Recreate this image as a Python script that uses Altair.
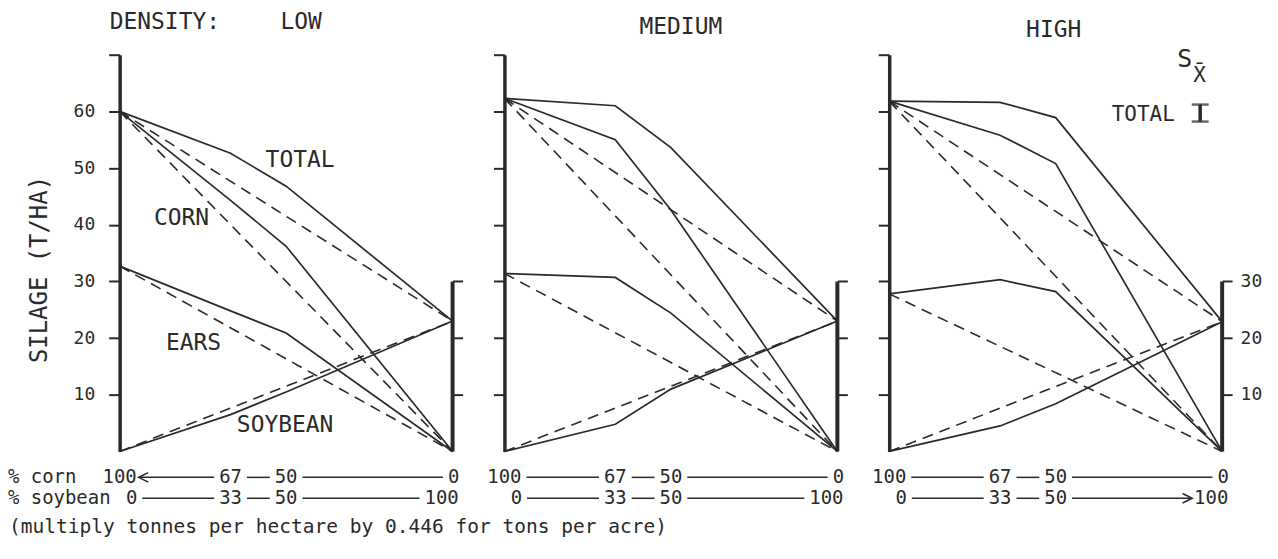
import altair as alt
import pandas as pd

# ---------------- data ----------------
densities = ["LOW", "MEDIUM", "HIGH"]
soybean_pct = [0, 33.3, 50, 100]                 # % soybean in the mixture
corn_row_labels = ["100", "67", "50", "0"]      # % corn
soybean_row_labels = ["0", "33", "50", "100"]   # % soybean
series_names = ["TOTAL", "CORN", "EARS", "SOYBEAN"]

low_total = [60.0, 52.6, 46.8, 23.0]
low_corn = [60.0, 44.3, 36.2, 0.0]
low_ears = [32.7, 24.8, 20.9, 0.0]
low_soybean = [0.0, 6.5, 10.5, 23.0]

medium_total = [62.3, 61.0, 53.6, 23.0]
medium_corn = [62.3, 55.0, 42.6, 0.0]
medium_ears = [31.4, 30.7, 24.4, 0.0]
medium_soybean = [0.0, 4.8, 11.0, 23.0]

high_total = [61.8, 61.6, 58.9, 22.9]
high_corn = [61.8, 55.8, 50.8, 0.0]
high_ears = [27.8, 30.3, 28.2, 0.0]
high_soybean = [0.0, 4.5, 8.4, 22.9]

sx_total = [58.2, 61.2]          # S x-bar bar for TOTAL (high panel)

left_tick_values = [10, 20, 30, 40, 50, 60, 70]
right_tick_values = [10, 20, 30]
x_tick_values = [33.3, 50]

panel_series = {
    "LOW": [low_total, low_corn, low_ears, low_soybean],
    "MEDIUM": [medium_total, medium_corn, medium_ears, medium_soybean],
    "HIGH": [high_total, high_corn, high_ears, high_soybean],
}

# ---------------- style ----------------
INK = "#2a2a2a"
FONT = "DejaVu Sans Mono"
W, H = 334, 398
ROW_Y = [H + 26, H + 47]
CAPTION_Y = H + 76
PX2U = 100 / W
ROW_FS = 19
HALF_CHAR = 5.72

# ---------------- tables ----------------
line_rows = []
for d in densities:
    for name, vals in zip(series_names, panel_series[d]):
        for xv, yv in zip(soybean_pct, vals):
            line_rows.append({"density": d, "key": name + "-obs", "kind": "observed", "x": xv, "y": yv})
        for xv, yv in ((soybean_pct[0], vals[0]), (soybean_pct[-1], vals[-1])):
            line_rows.append({"density": d, "key": name + "-exp", "kind": "expected", "x": xv, "y": yv})
lines_df = pd.DataFrame(line_rows)

row_labels = [corn_row_labels, soybean_row_labels]
# pixel nudges of the end labels of each typed row (start, end)
row_end_nudge = [(0, 1), (12, -11)]
arrows = {("LOW", 0): "left", ("HIGH", 1): "right"}

xs = alt.Scale(domain=[0, 100], nice=False, zero=False)
ys = alt.Scale(domain=[0, 70], nice=False)


def text(df, **kw):
    return alt.Chart(df).mark_text(font=FONT, color=INK, baseline="middle", **kw)


def panel(idx, d):
    first, last = idx == 0, idx == 2
    sub = lines_df[lines_df.density == d]

    left_kw = dict(orient="left", values=left_tick_values, labels=first, tickSize=11,
                   labelPadding=14, labelExpr="datum.value >= 70 ? '' : datum.label")
    if first:
        left_kw.update(title="SILAGE (T/HA)", titlePadding=22, titleY=215, titleFontSize=24)
    else:
        left_kw.update(title=None)
    x_axis = alt.Axis(values=x_tick_values, labels=False, tickSize=6, tickWidth=3, title=None)

    solid = alt.Chart(sub[sub.kind == "observed"]).mark_line(color=INK, strokeWidth=1.7).encode(
        x=alt.X("x:Q", scale=xs, axis=x_axis),
        y=alt.Y("y:Q", scale=ys, axis=alt.Axis(**left_kw)),
        detail="key:N", order="x:Q")
    dashed = alt.Chart(sub[sub.kind == "expected"]).mark_line(
        color=INK, strokeWidth=1.6, strokeDash=[11, 7]).encode(
        x=alt.X("x:Q", scale=xs, axis=None),
        y=alt.Y("y:Q", scale=ys, axis=None),
        detail="key:N", order="x:Q")

    right_df = pd.DataFrame({"x": [soybean_pct[-1]], "y0": [0], "y1": [max(right_tick_values)]})
    right = alt.Chart(right_df).mark_rule(color=INK, strokeWidth=4).encode(
        x=alt.X("x:Q", scale=xs, axis=x_axis),
        y=alt.Y("y0:Q", scale=ys, axis=alt.Axis(orient="right", values=right_tick_values, domain=False,
                                                labels=last, tickSize=10, labelPadding=8, title=None)),
        y2="y1:Q")

    layers = [solid, dashed, right]

    # ---- rows of % labels under the axis ----
    for r, labs in enumerate(row_labels):
        n0, n1 = row_end_nudge[r]
        ldf = pd.DataFrame({"x": soybean_pct, "label": labs})
        nudge = (f"datum.x == {soybean_pct[0]} ? {n0 * PX2U} : "
                 f"(datum.x == {soybean_pct[-1]} ? {n1 * PX2U} : 0)")
        layers.append(text(ldf, fontSize=ROW_FS).transform_calculate(
            xo=f"datum.x + ({nudge})").encode(
            x=alt.X("xo:Q", scale=xs, axis=None), y=alt.value(ROW_Y[r]), text="label:N"))
        arr = arrows.get((d, r), "")
        seg = pd.DataFrame({
            "xa": soybean_pct[:-1], "xb": soybean_pct[1:],
            "la": [len(s) for s in labs[:-1]], "lb": [len(s) for s in labs[1:]],
            "na": [n0, 0, 0], "nb": [0, 0, n1],
            "arrow": ["left" if (i == 0 and arr == "left") else ("right" if (i == 2 and arr == "right") else "")
                      for i in range(3)],
        })
        segc = alt.Chart(seg).transform_calculate(
            x1=f"datum.xa + (datum.na + datum.la*{HALF_CHAR} + (datum.arrow == 'left' ? 2 : 5))*{PX2U}",
            x2=f"datum.xb + (datum.nb - datum.lb*{HALF_CHAR} - (datum.arrow == 'right' ? 2 : 5))*{PX2U}")
        layers.append(segc.mark_rule(color=INK, strokeWidth=1.5).encode(
            x=alt.X("x1:Q", scale=xs, axis=None), x2="x2:Q", y=alt.value(ROW_Y[r])))
        if arr == "left":
            layers.append(segc.transform_filter("datum.arrow == 'left'").mark_point(
                shape="M2,-1L0,0L2,1", size=90, filled=False, color=INK, strokeWidth=1.6, opacity=1).encode(
                x=alt.X("x1:Q", scale=xs, axis=None), y=alt.value(ROW_Y[r])))
        elif arr == "right":
            layers.append(segc.transform_filter("datum.arrow == 'right'").mark_point(
                shape="M-2,-1L0,0L-2,1", size=90, filled=False, color=INK, strokeWidth=1.6, opacity=1).encode(
                x=alt.X("x2:Q", scale=xs, axis=None), y=alt.value(ROW_Y[r])))

    if first:
        for r, name in enumerate(["% corn", "% soybean"]):
            layers.append(text(pd.DataFrame({"t": [name]}), fontSize=19, align="left").encode(
                x=alt.value(-112), y=alt.value(ROW_Y[r]), text="t:N"))
        layers.append(text(pd.DataFrame({"t": ["(multiply tonnes per hectare by 0.446 for tons per acre)"]}),
                           fontSize=19.6, align="left").encode(
            x=alt.value(-111), y=alt.value(CAPTION_Y), text="t:N"))
        layers.append(text(pd.DataFrame({"t": ["DENSITY:"]}), fontSize=23, align="left").encode(
            x=alt.value(-10), y=alt.value(-33), text="t:N"))
        layers.append(text(pd.DataFrame({"t": [d]}), fontSize=23).encode(
            x=alt.value(182), y=alt.value(-33), text="t:N"))
        lab = pd.DataFrame({"label": series_names, "x": [54.2, 18.6, 22.2, 49.7], "y": [51.5, 41.2, 19.2, 4.6]})
        layers.append(text(lab, fontSize=23).encode(
            x=alt.X("x:Q", scale=xs, axis=None), y=alt.Y("y:Q", scale=ys, axis=None), text="label:N"))
    elif idx == 1:
        layers.append(text(pd.DataFrame({"t": [d]}), fontSize=23).encode(
            x=alt.value(177), y=alt.value(-28), text="t:N"))
    else:
        layers.append(text(pd.DataFrame({"t": [d]}), fontSize=23).encode(
            x=alt.value(165), y=alt.value(-25), text="t:N"))
        # S x-bar annotation and error bar for TOTAL
        layers.append(text(pd.DataFrame({"t": ["S"], "x": [88.8], "y": [69.3]}), fontSize=25).encode(
            x=alt.X("x:Q", scale=xs, axis=None), y=alt.Y("y:Q", scale=ys, axis=None), text="t:N"))
        layers.append(text(pd.DataFrame({"t": ["X\u0304"], "x": [93.2], "y": [66.2]}), fontSize=21).encode(
            x=alt.X("x:Q", scale=xs, axis=None), y=alt.Y("y:Q", scale=ys, axis=None), text="t:N"))
        layers.append(text(pd.DataFrame({"t": ["TOTAL"], "x": [76.3], "y": [59.4]}), fontSize=21).encode(
            x=alt.X("x:Q", scale=xs, axis=None), y=alt.Y("y:Q", scale=ys, axis=None), text="t:N"))
        eb = pd.DataFrame({"x": [93.4], "lo": [sx_total[0]], "hi": [sx_total[1]]})
        layers.append(alt.Chart(eb).mark_rule(color=INK, strokeWidth=3.5).encode(
            x=alt.X("x:Q", scale=xs, axis=None), y=alt.Y("lo:Q", scale=ys, axis=None), y2="hi:Q"))
        caps = pd.DataFrame({"x": [93.4, 93.4], "y": sx_total})
        layers.append(alt.Chart(caps).mark_tick(color=INK, orient="horizontal", size=17, thickness=2.5).encode(
            x=alt.X("x:Q", scale=xs, axis=None), y=alt.Y("y:Q", scale=ys, axis=None)))

    return alt.layer(*layers).properties(width=W, height=H).resolve_axis(y="independent")


chart = alt.hconcat(*[panel(i, d) for i, d in enumerate(densities)], spacing=52).properties(
    bounds="flush", padding={"left": 0, "top": 2, "right": 8, "bottom": 6}, background="white"
).configure_view(stroke=None).configure_axis(
    grid=False, domainColor=INK, tickColor=INK, labelColor=INK, labelFont=FONT, labelFontSize=18,
    titleFont=FONT, titleFontSize=22, titleFontWeight="normal", titleColor=INK,
    domainWidth=3.5, tickWidth=2
)

chart.save("out.html", embed_options={"renderer": "svg", "actions": False})
